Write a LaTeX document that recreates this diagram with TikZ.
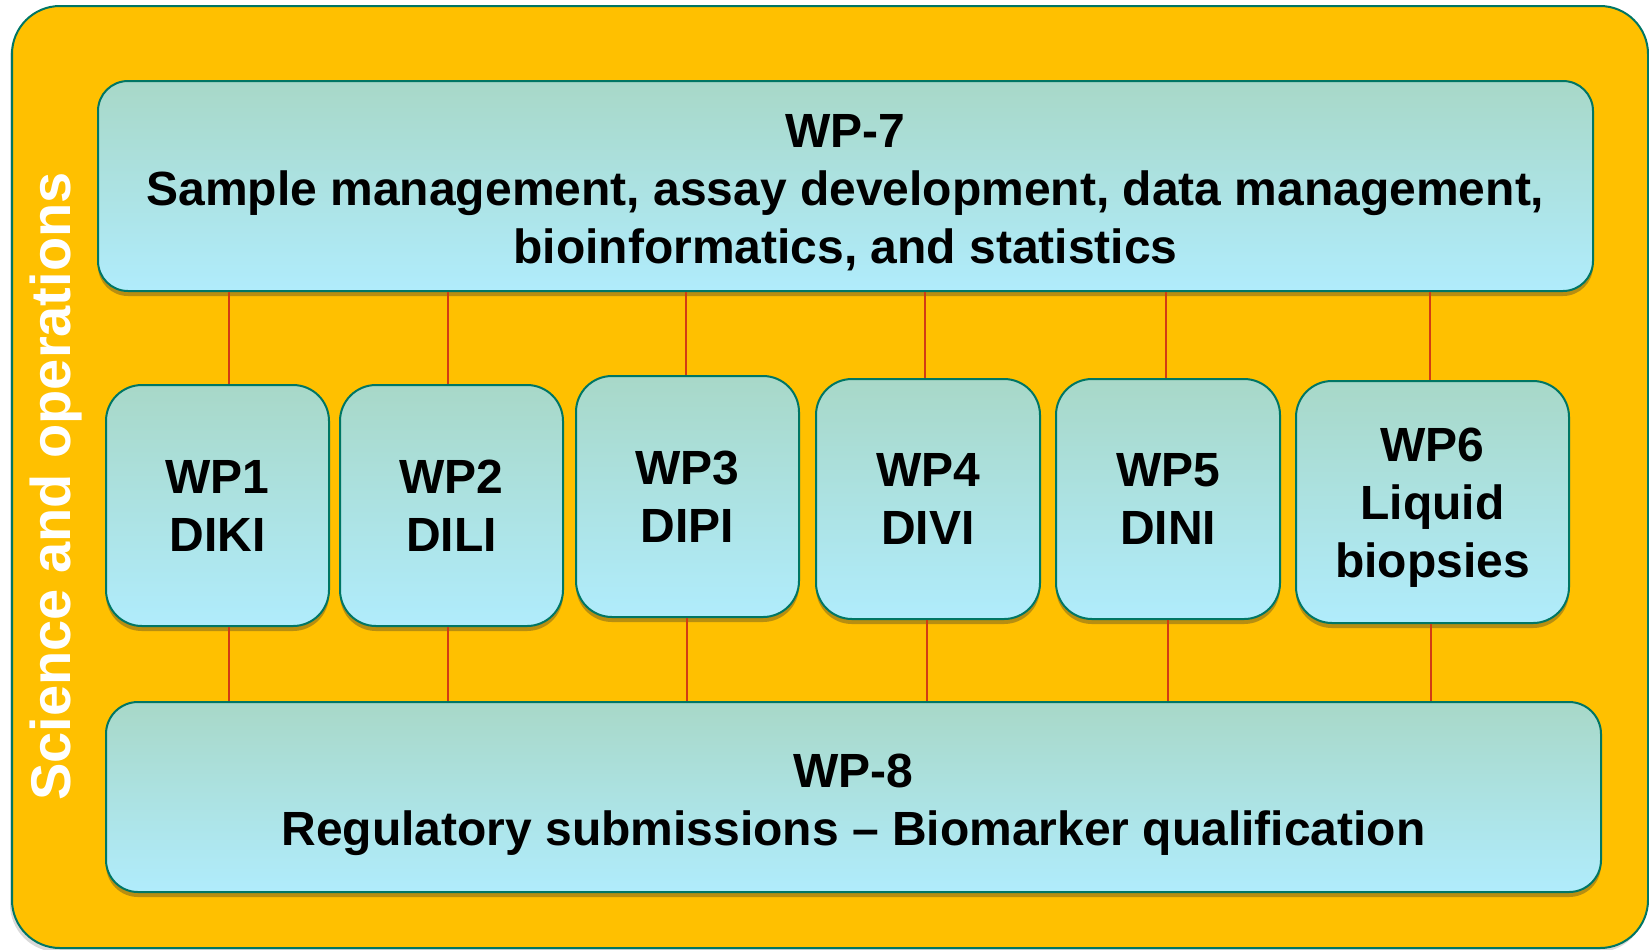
\documentclass[tikz,border=0pt]{standalone}
\usepackage{fontspec}
\setmainfont{Liberation Sans}
\usetikzlibrary{shadows,positioning}
\definecolor{gold}{RGB}{255,192,0}
\definecolor{teal}{RGB}{0,118,100}
\definecolor{topc}{RGB}{168,216,200}
\definecolor{botc}{RGB}{176,236,252}
\definecolor{linkc}{RGB}{210,60,20}
\tikzset{
  pbox/.style={draw=teal, line width=1pt, top color=topc, bottom color=botc,
    rounded corners=#1, inner sep=0pt, align=center,
    font=\bfseries\fontsize{24}{29}\selectfont,
    drop shadow={shadow xshift=0pt, shadow yshift=-2.5pt, opacity=0.35, fill=black!80}},
  link/.style={draw=linkc, line width=1.2pt},
}
\begin{document}
\begin{tikzpicture}[x=0.5pt,y=-0.5pt]
\useasboundingbox (0,0) rectangle (1649,949);
% outer
\node[draw=teal, line width=1pt, fill=gold, rounded corners=24pt, minimum width=818pt, minimum height=471pt,
  drop shadow={shadow xshift=-1pt, shadow yshift=-2pt, opacity=0.3}, inner sep=0pt]
  (outer) at (830,477) {};
\node[rotate=90, anchor=base, text=white, font=\bfseries\fontsize{28}{32}\selectfont] (sci) at (70,486.5) {Science and operations};
% WP-7
\node[pbox=15pt, minimum width=747.5pt, minimum height=105pt] (wp7) at (845.5,186) {\rule{0pt}{23.5pt}WP-7\\Sample management, assay development, data management,\\bioinformatics, and statistics};
% WP-8
\node[pbox=16pt, minimum width=747.5pt, minimum height=95pt] (wp8) at (853.5,797) {\rule{0pt}{24.5pt}WP-8\\Regulatory submissions -- Biomarker qualification};
% WP boxes
\node[pbox=18pt, minimum width=111.5pt, minimum height=120.5pt] (wp1) at (217.5,505.5) {WP1\\DIKI};
\node[pbox=18pt, minimum width=111.5pt, minimum height=120.5pt] (wp2) at (451.5,505.5) {WP2\\DILI};
\node[pbox=18pt, minimum width=111.5pt, minimum height=120.5pt] (wp3) at (687.5,496.5) {WP3\\DIPI};
\node[pbox=18pt, minimum width=112pt, minimum height=120pt] (wp4) at (928,499) {WP4\\DIVI};
\node[pbox=18pt, minimum width=112pt, minimum height=120pt] (wp5) at (1168,499) {WP5\\DINI};
\node[pbox=18pt, minimum width=136.5pt, minimum height=121pt] (wp6) at (1432.5,502) {\rule{0pt}{22.5pt}WP6\\Liquid\\biopsies};
% links
\draw[link] (wp7.south -| 229,0) -- (wp1.north -| 229,0);
\draw[link] (wp7.south -| 448,0) -- (wp2.north -| 448,0);
\draw[link] (wp7.south -| 686,0) -- (wp3.north -| 686,0);
\draw[link] (wp7.south -| 925,0) -- (wp4.north -| 925,0);
\draw[link] (wp7.south -| 1166,0) -- (wp5.north -| 1166,0);
\draw[link] (wp7.south -| 1430,0) -- (wp6.north -| 1430,0);
\draw[link] (wp1.south -| 229,0) -- (wp8.north -| 229,0);
\draw[link] (wp2.south -| 448,0) -- (wp8.north -| 448,0);
\draw[link] (wp3.south -| 687,0) -- (wp8.north -| 687,0);
\draw[link] (wp4.south -| 927,0) -- (wp8.north -| 927,0);
\draw[link] (wp5.south -| 1168,0) -- (wp8.north -| 1168,0);
\draw[link] (wp6.south -| 1431,0) -- (wp8.north -| 1431,0);
\end{tikzpicture}
\end{document}
